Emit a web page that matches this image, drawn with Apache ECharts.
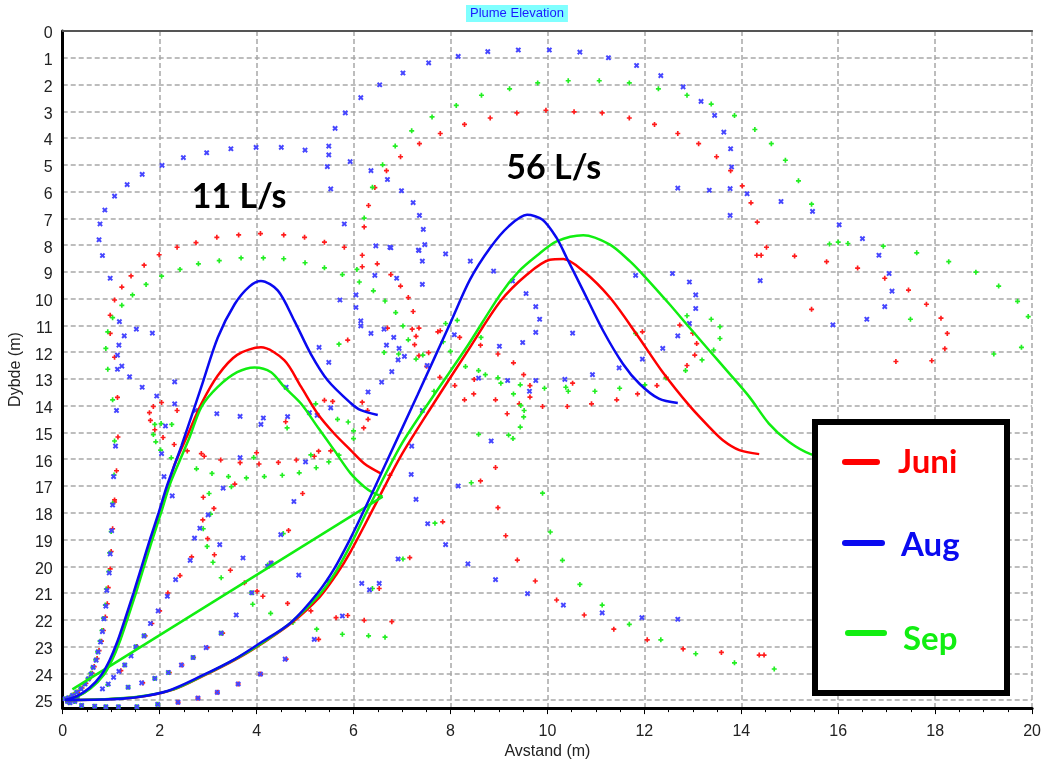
<!DOCTYPE html>
<html>
<head>
<meta charset="utf-8">
<script src="https://cdn.jsdelivr.net/npm/echarts@6/dist/echarts.min.js"></script>
<style>
  html, body { margin: 0; padding: 0; background: #fff; }
  #chart { width: 1044px; height: 765px; }
</style>
</head>
<body>
<div id="chart"></div>
<script>
// plume centre lines, [avstand, dybde]
var juni11 = [[0.05,25.0],[0.3,24.86],[0.57,24.55],[0.83,24.05],[1.0,23.5],[1.15,22.85],[1.31,22.0],[1.49,21.0],[1.66,20.0],[1.83,19.0],[2.01,18.0],[2.18,17.0],[2.31,16.2],[2.59,15.04],[2.86,13.93],[3.2,12.87],[3.6,12.1],[4.09,11.82],[4.57,12.3],[4.92,13.3],[5.26,14.3],[5.6,15.04],[5.94,15.66],[6.22,16.16],[6.56,16.53]];
var aug11 = [[0.05,25.0],[0.3,24.85],[0.55,24.55],[0.8,24.05],[0.97,23.5],[1.12,22.85],[1.28,22.0],[1.46,21.0],[1.63,20.0],[1.8,19.0],[1.98,18.0],[2.15,17.0],[2.45,15.5],[2.86,13.3],[3.2,11.45],[3.55,10.2],[3.85,9.55],[4.09,9.34],[4.44,9.7],[4.78,10.83],[5.12,12.07],[5.47,13.06],[5.94,13.9],[6.15,14.17],[6.5,14.35]];
var sep11 = [[0.05,25.0],[0.3,24.87],[0.58,24.56],[0.85,24.05],[1.02,23.5],[1.17,22.85],[1.33,22.0],[1.51,21.0],[1.68,20.0],[1.85,19.0],[2.03,18.0],[2.2,17.0],[2.38,16.2],[2.62,15.17],[2.86,14.05],[3.2,13.3],[3.6,12.75],[3.96,12.57],[4.3,12.75],[4.57,13.3],[4.92,13.93],[5.26,14.8],[5.6,15.66],[5.94,16.53],[6.22,17.03],[6.4,17.25],[6.6,17.4]];
var sepLink = [[6.6,17.4],[0.2,24.6]];
var juni56 = [[0.05,25.0],[0.9,24.97],[1.6,24.88],[2.3,24.6],[2.9,24.1],[3.6,23.45],[4.1,22.9],[4.7,22.15],[5.3,21.15],[5.65,20.3],[5.94,19.45],[6.42,17.8],[6.97,15.9],[7.66,13.9],[8.34,12.0],[9.03,10.1],[9.58,9.1],[10.05,8.55],[10.33,8.52],[10.74,8.97],[11.29,9.96],[11.84,11.33],[12.38,12.75],[12.93,14.0],[13.34,14.8],[13.62,15.29],[13.96,15.66],[14.37,15.81]];
var aug56 = [[0.05,25.0],[0.8,24.98],[1.49,24.9],[2.18,24.65],[2.86,24.1],[3.55,23.47],[4.09,22.85],[4.71,22.1],[5.26,21.0],[5.6,20.1],[5.94,18.95],[6.22,17.9],[6.63,16.3],[7.32,13.6],[8.0,10.9],[8.4,9.3],[8.82,8.1],[9.2,7.3],[9.58,6.87],[9.9,7.05],[10.19,7.73],[10.4,8.48],[10.74,9.71],[11.15,11.2],[11.56,12.44],[11.9,13.18],[12.3,13.74],[12.69,13.9]];
var sep56 = [[0.05,25.0],[0.85,24.97],[1.55,24.88],[2.25,24.62],[2.88,24.1],[3.58,23.45],[4.1,22.88],[4.7,22.12],[5.28,21.1],[5.62,20.25],[5.94,19.2],[6.29,17.9],[6.97,15.5],[7.66,13.6],[8.34,11.8],[9.03,9.84],[9.4,9.0],[9.78,8.4],[10.19,7.86],[10.74,7.63],[11.29,7.98],[11.7,8.6],[11.97,9.1],[12.52,10.21],[12.93,11.08],[13.34,11.94],[13.76,12.81],[14.17,13.68],[14.57,14.67],[14.98,15.35],[15.43,15.81],[15.9,15.95]];

// plume edge points
var juniPts = [[1.99,8.36],[2.36,8.08],[2.75,7.91],[3.18,7.71],[3.63,7.62],[4.08,7.57],[4.56,7.62],[4.99,7.71],[5.4,7.89],[5.81,8.08],
  [1.68,8.75],[1.41,9.15],[1.22,9.57],[1.07,10.05],[0.98,10.62],[0.98,11.3],[1.07,12.19],[1.13,13.69],[1.14,15.17],[1.11,16.43],[1.07,17.52],[2.04,13.88],[2.36,14.18],[1.87,14.03],[1.79,14.26],[1.81,14.55],[1.9,14.9],[2.07,15.19],[2.3,15.45],[2.57,15.69],[2.86,15.79],[2.92,15.89],[3.26,16.03],[3.66,16.13],[4.0,15.76],[4.05,16.18],[4.45,16.12],[4.82,16.03],[5.19,15.89],[5.28,15.7],[5.53,15.69],[4.6,14.6],[5.4,13.8],[5.57,13.84],[5.88,11.55],[3.55,16.93],[2.9,17.42],[4.95,17.28],
  [1.07,17.6],[1.03,18.6],[1.0,19.45],[0.98,20.1],[0.94,20.8],[0.92,21.4],[0.88,21.9],[0.84,22.4],[0.8,22.8],[0.75,23.15],[0.71,23.45],[0.65,23.75],[0.61,24.0],[0.55,24.2],[0.48,24.38],[0.4,24.55],[0.31,24.7],[0.22,24.8],[0.14,24.9],
  [1.2,23.9],[1.53,23.0],[1.7,22.6],[1.84,22.14],[2.0,21.67],[2.17,21.0],[2.42,20.35],[2.66,19.65],[2.99,18.97],[2.89,18.27],[3.12,17.84],[3.13,19.57],[3.46,20.15],[3.75,20.62],[4.01,20.93],[4.13,21.12],[4.64,21.39],[5.12,21.67],[5.64,21.92],[5.88,21.84],[5.28,22.73],[4.61,23.47],[4.08,24.03],[3.62,24.4],[3.19,24.71],[2.79,24.93],[2.38,25.08],[4.3,19.88],[4.66,18.66],[3.3,22.5],[2.98,23.04],[2.7,23.41],[2.46,23.69],[1.65,24.36],[2.2,23.97],
  [6.18,8.38],[6.18,8.81],[6.49,8.7],[6.77,9.1],[6.97,9.53],[7.13,9.96],[7.23,10.48],[6.7,11.1],[7.21,11.14],[7.35,11.1],[7.29,11.41],[7.26,11.72],[7.35,12.13],[7.55,12.02],[7.51,12.53],[7.74,11.24],[7.79,11.2],[6.18,13.87],[6.29,14.18],[6.3,14.51],[6.21,14.83],[7.78,12.94],[8.09,13.25],[8.19,11.45],[8.62,11.74],[8.98,12.07],[9.3,12.4],[9.51,12.84],[8.49,13.02],[8.48,13.56],[8.29,13.78],[8.93,13.78],[9.17,14.3],[9.42,13.93],[9.64,13.25],[9.64,13.68],[9.9,14.03],[10.41,14.03],[10.52,13.16],[10.91,13.93],[11.43,13.78],[11.86,13.56],[11.96,11.24],[13.04,12.11],[12.88,12.5],[12.73,10.99],[12.26,13.25],[12.45,12.94],[8.93,16.31],[8.62,16.81],[6.75,16.6],
  [8.29,3.49],[8.82,3.25],[9.37,3.06],[9.97,2.96],[10.55,3.02],[11.13,3.06],[11.69,3.25],[12.21,3.49],[12.69,3.83],[7.79,3.83],[7.36,4.21],[6.97,4.7],[6.68,5.22],[6.44,5.85],[6.31,6.52],[6.22,7.32],
  [13.12,4.21],[13.49,4.7],[13.78,5.22],[14.02,5.79],[14.2,6.42],[14.33,7.14],[14.52,8.08],[14.32,8.38],[14.41,8.38],[15.1,8.41],
  [15.76,8.62],[16.4,8.86],[16.96,9.24],[17.45,9.68],[17.82,10.21],[18.12,10.73],[18.25,11.3],[18.2,11.87],[17.93,12.32],[17.19,12.35],[15.45,10.4],[13.0,11.29],[13.08,11.68],
  [8.98,17.81],[9.14,18.86],[9.38,19.77],[9.75,20.55],[10.19,21.26],[10.76,21.82],[11.37,22.35],[12.06,22.75],[12.8,23.09],[7.84,18.34],[7.16,19.68],[6.53,20.83],[6.22,22.02],[6.79,22.07],
  [13.59,23.22],[14.37,23.32],[14.47,23.32]];

var augPts = [[0.77,7.21],[0.75,7.8],[0.82,8.39],[0.87,6.69],[1.07,6.17],[1.33,5.74],[1.64,5.36],[2.05,5.02],[2.49,4.73],[2.97,4.55],[3.47,4.4],[3.99,4.35],[4.51,4.35],[5.0,4.45],[5.49,4.3],[5.49,4.63],[5.46,5.07],[5.53,5.9],[5.62,3.64],[5.83,3.06],[5.81,7.21],[5.93,4.88],
  [0.98,9.24],[1.17,10.86],[1.27,11.39],[1.16,11.74],[1.13,12.11],[1.22,12.52],[1.13,12.64],[1.38,12.92],[1.52,11.14],[1.85,11.29],[1.64,13.31],[1.94,13.64],[2.31,13.11],[2.31,13.93],[2.12,14.76],[2.04,15.79],[2.09,16.65],[2.26,17.37],[2.74,14.18],[3.18,14.3],[3.66,14.4],[4.14,14.46],[4.09,14.7],[4.64,14.41],[4.61,13.31],[3.66,15.94],[3.31,17.08],[4.77,17.58],[5.01,16.1],[5.09,14.26],[5.25,14.36],[5.29,11.82],[5.49,12.38],[5.53,14.08],[5.72,10.05],[1.05,16.65],[1.09,15.51],[1.11,14.18],[1.03,17.71],
  [1.01,18.67],[0.98,19.54],[0.96,20.25],[0.91,20.9],[0.89,21.49],[0.85,21.96],[0.82,22.44],[0.78,22.83],[0.73,23.2],[0.69,23.51],[0.63,23.78],[0.59,24.03],[0.53,24.21],[0.46,24.4],[0.38,24.58],[0.29,24.71],[0.2,24.83],[0.12,24.92],
  [0.82,24.58],[0.94,24.4],[1.05,24.15],[1.16,23.93],[1.28,23.69],[1.41,23.35],[1.51,23.01],[1.68,22.6],[1.81,22.14],[1.97,21.67],[2.16,21.12],[2.33,20.5],[2.63,19.78],[2.72,18.95],[2.83,18.58],[3.0,18.08],
  [1.35,24.52],[1.63,24.36],[1.9,24.19],[2.18,23.97],[2.45,23.69],[2.69,23.41],[2.96,23.04],[3.27,22.5],[3.58,21.82],[3.9,20.99],[4.23,20.0],[4.5,18.82],
  [2.38,25.08],[2.79,24.93],[3.19,24.71],[3.62,24.4],[4.08,24.03],[4.59,23.47],[5.19,22.73],[5.77,21.86],
  [0.39,25.2],[0.66,25.23],[0.89,25.25],[1.15,25.25],[1.53,25.25],[1.96,25.16],
  [3.72,19.69],[4.87,20.33],[5.5,20.53],[3.24,19.19],[4.3,19.88],
  [0.05,24.95],[0.1,25.05],[0.18,24.95],[0.25,25.05],[0.3,24.9],[0.15,25.1],
  [6.77,8.1],[7.35,8.2],[7.9,8.33],[7.42,8.6],[6.44,9.13],[6.89,9.24],[7.42,9.47],[6.05,9.86],[6.05,10.33],[6.15,10.83],[6.15,11.02],[6.63,11.14],[6.36,11.3],[6.83,11.45],[6.68,11.74],[6.94,11.86],[6.92,12.29],[7.05,12.16],[7.52,12.5],[6.79,12.73],[6.58,13.12],[6.3,13.49],[7.42,14.18],[8.08,11.35],[8.41,8.6],[8.89,8.97],[9.28,9.34],[9.56,9.81],[9.76,10.3],[9.84,10.77],[9.76,11.26],[9.49,11.64],[9.01,11.78],[8.58,12.97],[9.18,13.06],[9.63,13.46],[9.76,13.06],[10.36,13.02],[10.93,12.84],[10.52,11.29],[11.82,9.13],[12.58,9.06],[12.93,9.38],[13.06,9.86],[13.06,10.37],[12.69,11.39],[12.38,11.86],[11.96,12.26],[12.93,10.93],[11.48,12.59],[8.84,15.32],[7.2,15.51],[7.19,16.57],[8.16,17.0],[7.29,17.5],
  [6.15,2.49],[6.54,2.01],[7.02,1.57],[7.55,1.19],[8.16,0.95],[8.77,0.77],[9.4,0.71],[10.04,0.71],[10.67,0.79],[11.26,1.0],[11.84,1.29],[12.34,1.67],[12.8,2.09],[6.36,5.22],[6.7,5.55],[6.99,5.97],[7.23,6.41],[7.36,6.89],[7.44,7.41],[7.47,7.98],[7.34,8.19],[6.75,8.08],[6.46,8.03],[12.69,5.87],
  [13.17,2.63],[13.45,3.15],[13.64,3.78],[13.78,4.4],[13.8,5.08],[13.34,5.95],[13.77,5.89],[14.12,6.08],[14.82,6.37],[15.47,6.74],[13.77,6.89],[16.02,7.24],[16.5,7.76],[16.84,8.38],
  [17.05,9.06],[17.11,9.72],[16.96,10.3],[16.59,10.77],[15.89,10.98],[14.39,9.33],
  [7.53,18.41],[7.9,19.19],[8.36,19.91],[8.93,20.5],[9.59,21.02],[10.33,21.45],[11.13,21.74],[11.95,21.92],[12.69,21.98],[6.92,19.73],[6.17,20.64],[6.33,20.88],[6.53,20.64]];

var sepPts = [[2.04,9.16],[2.42,8.91],[2.8,8.7],[3.23,8.58],[3.68,8.48],[4.14,8.48],[4.56,8.51],[5.0,8.66],[5.4,8.85],[5.77,9.1],[1.72,9.47],[1.44,9.86],[1.22,10.25],[1.03,10.71],[0.93,11.24],[0.89,11.86],[0.93,12.64],[1.03,13.78],[1.07,15.32],[1.06,16.59],[1.03,17.65],[1.9,14.7],[1.87,15.08],[1.92,15.35],[2.02,15.66],[2.24,15.95],[2.03,14.67],[2.25,14.7],[2.76,16.36],[3.08,16.53],[3.42,16.65],[3.79,16.7],[3.94,15.94],[4.16,16.65],[4.53,16.6],[4.88,16.51],[5.23,16.32],[5.49,16.1],[5.12,15.84],[5.7,15.85],[4.63,14.83],[5.22,13.93],[5.67,14.51],[5.89,14.61],[5.7,11.7],[3.02,17.28],[3.48,17.03],
  [1.0,18.7],[0.97,19.5],[0.95,20.2],[0.9,20.85],[0.88,21.45],[0.84,21.95],[0.81,22.4],[0.77,22.8],[0.72,23.2],[0.68,23.5],[0.62,23.78],[0.58,24.0],[0.52,24.2],[0.45,24.4],[0.37,24.57],[0.28,24.7],[0.19,24.82],[0.11,24.92],
  [0.93,24.42],[1.28,23.69],[1.51,23.01],[1.68,22.6],
  [1.35,24.52],[1.9,24.19],[2.18,23.97],[2.69,23.41],[3.27,22.5],[3.9,20.99],[4.23,19.95],[4.55,18.78],
  [3.1,19.85],[2.98,19.26],[3.27,20.43],[2.9,18.6],[3.05,18.05],[3.92,21.42],[4.29,21.76],[4.75,22.1],[5.24,22.35],[5.77,22.54],
  [0.39,25.2],[0.66,25.23],[0.89,25.25],[1.15,25.25],[1.53,25.25],[1.96,25.16],
  [0.05,24.95],[0.1,25.05],[0.18,24.95],[0.25,25.05],[0.3,24.9],[0.15,25.1],
  [6.07,8.91],[6.12,9.38],[6.41,9.71],[6.65,10.09],[6.87,10.52],[7.02,11.02],[7.13,11.54],[6.63,12.01],[6.93,12.07],[7.29,12.26],[7.43,12.11],[7.9,10.93],[8.14,10.81],[7.85,11.61],[8.0,11.97],[8.31,12.54],[8.58,12.69],[8.72,12.84],[8.98,12.96],[9.04,13.16],[9.3,13.56],[9.44,13.22],[9.45,13.99],[9.52,14.18],[9.51,14.42],[9.44,14.8],[9.2,15.1],[9.29,15.23],[8.58,15.07],[9.94,13.35],[10.38,13.31],[10.43,13.46],[10.98,13.46],[11.49,13.35],[12.01,13.22],[11.82,11.3],[12.88,10.64],[12.85,12.69],[12.45,12.97],[6.0,14.94],[6.0,15.23],[8.43,16.88],[9.9,17.27],[7.66,13.46],[8.63,11.45],
  [8.12,2.78],[8.64,2.4],[9.22,2.16],[9.8,1.94],[10.43,1.86],[11.07,1.86],[11.69,1.94],[12.29,2.16],[12.88,2.4],[7.62,3.21],[7.2,3.73],[6.86,4.3],[6.6,5.0],[6.39,5.84],[6.22,6.99],
  [13.38,2.73],[13.86,3.16],[14.28,3.68],[14.62,4.21],[14.91,4.83],[15.18,5.6],[15.45,6.47],[15.82,7.96],[16.0,7.89],[16.2,7.94],[16.93,8.04],[17.62,8.29],
  [18.28,8.62],[18.84,9.01],[19.31,9.53],[19.7,10.1],[19.92,10.67],[19.78,11.82],[19.21,12.07],[17.49,10.77],[13.38,10.77],[13.56,11.05],[13.56,11.49],[13.43,11.92],[13.19,12.29],
  [7.68,18.39],[7.02,19.73],[6.39,20.83],[6.31,22.6],[6.65,22.65],[10.06,18.72],[10.31,19.78],[10.67,20.68],[11.13,21.45],[11.69,22.17],[12.34,22.75],[13.06,23.27],
  [13.86,23.61],[14.68,23.84]];

var flowLabels = [{ name: '11 L/s', value: [3.64, 6.21] }, { name: '56 L/s', value: [10.13, 5.13] }];
var months = ['Juni', 'Aug', 'Sep'];

var RED = '#ff0000', BLUE = '#0a0af0', GREEN = '#11ee11';
var plus = 'path://M2,0H4V2H6V4H4V6H2V4H0V2H2Z';

function curve(data, color) {
    return {
        type: 'line', data: data, smooth: 0.3, symbol: 'none', z: 5,
        lineStyle: { color: color, width: 2.5 }
    };
}
function pts(data, color, rot, size) {
    return {
        type: 'scatter', data: data, symbol: plus, symbolSize: size, symbolRotate: rot, z: 3,
        itemStyle: { color: color, opacity: 1 }
    };
}

var chart = echarts.init(document.getElementById('chart'));
chart.setOption({
    animation: false,
    title: {
        text: 'Plume Elevation', left: 466, top: 5,
        padding: [2, 4], backgroundColor: '#80ffff',
        textStyle: { fontFamily: 'Liberation Sans', fontSize: 13, fontWeight: 'normal', color: '#1a1aff' }
    },
    grid: { left: 61, right: 11, top: 31, bottom: 52 },
    xAxis: [{
        type: 'value', min: 0, max: 20, interval: 2,
        name: 'Avstand (m)', nameLocation: 'middle', nameGap: 33,
        nameTextStyle: { fontFamily: 'Liberation Sans', fontSize: 16, color: '#222' },
        axisLine: { onZero: false, lineStyle: { color: '#000', width: 3 } },
        axisTick: { length: 6, lineStyle: { color: '#000' } },
        minorTick: { show: true, splitNumber: 4, length: 4, lineStyle: { color: '#000' } },
        axisLabel: { fontFamily: 'Liberation Sans', fontSize: 16, color: '#222', margin: 15 },
        splitLine: { lineStyle: { color: '#a8a8a8', width: 1.5, type: [5, 3] } }
    }, {
        type: 'value', min: 0, max: 20, position: 'top',
        axisLine: { onZero: false, lineStyle: { color: '#555', width: 2 } },
        axisTick: { show: false }, axisLabel: { show: false }, splitLine: { show: false }
    }],
    yAxis: {
        type: 'value', min: 0, max: 25.3, interval: 1, inverse: true,
        name: 'Dybde (m)', nameLocation: 'middle', nameGap: 34,
        nameTextStyle: { fontFamily: 'Liberation Sans', fontSize: 16, color: '#222' },
        axisLine: { onZero: false, lineStyle: { color: '#000', width: 3 } },
        axisTick: { show: false },
        axisLabel: {
            fontFamily: 'Liberation Sans', fontSize: 16, color: '#222', margin: 10, showMaxLabel: false,
            formatter: function (v) { return Number.isInteger(v) ? '{d|' + v + '}' : ''; },
            rich: { d: { fontFamily: 'Liberation Sans', fontSize: 16, color: '#222', padding: [6, 0, 0, 0] } }
        },
        splitLine: { lineStyle: { color: '#a8a8a8', width: 1.5, type: [5, 3] } }
    },
    series: [
        pts(juniPts, '#ff1c1c', 0, 5),
        pts(sepPts, '#22ee22', 0, 5),
        pts(augPts, '#4646ff', 45, 6),
        curve(juni11, RED), curve(juni56, RED),
        curve(sep11, GREEN), curve(sep56, GREEN),
        { type: 'line', data: sepLink, symbol: 'none', z: 5, lineStyle: { color: GREEN, width: 2.5 } },
        curve(aug11, BLUE), curve(aug56, BLUE),
        {
            type: 'scatter', data: flowLabels, symbolSize: 1, z: 6,
            itemStyle: { color: 'transparent', opacity: 1 },
            label: {
                show: true, position: 'inside', formatter: '{b}', opacity: 1,
                fontFamily: 'Lato', fontWeight: 'bold', fontSize: 34, color: '#000'
            }
        }
    ],
    graphic: [
        { type: 'rect', z: 100, shape: { x: 815, y: 422, width: 192, height: 271 },
          style: { fill: '#fff', stroke: '#000', lineWidth: 6 } },
        { type: 'line', z: 101, shape: { x1: 845, y1: 462, x2: 877, y2: 462 },
          style: { stroke: RED, lineWidth: 6, lineCap: 'round' } },
        { type: 'line', z: 101, shape: { x1: 845, y1: 543, x2: 882, y2: 543 },
          style: { stroke: BLUE, lineWidth: 6, lineCap: 'round' } },
        { type: 'line', z: 101, shape: { x1: 848, y1: 633, x2: 884, y2: 633 },
          style: { stroke: GREEN, lineWidth: 6, lineCap: 'round' } },
        { type: 'text', z: 101, x: 898, y: 462,
          style: { text: months[0], font: 'bold 33px Lato', fill: RED, verticalAlign: 'middle' } },
        { type: 'text', z: 101, x: 901, y: 545,
          style: { text: months[1], font: 'bold 33px Lato', fill: BLUE, verticalAlign: 'middle' } },
        { type: 'text', z: 101, x: 903, y: 639,
          style: { text: months[2], font: 'bold 33px Lato', fill: GREEN, verticalAlign: 'middle' } }
    ]
});
</script>
</body>
</html>
